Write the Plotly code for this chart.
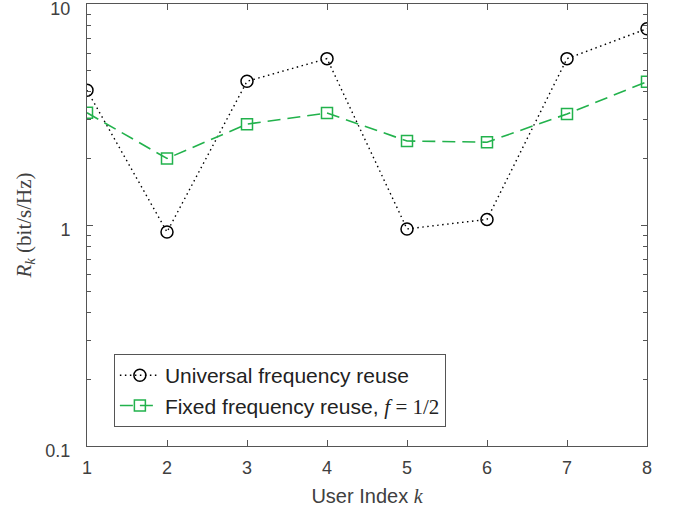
import plotly.graph_objects as go

users = [1, 2, 3, 4, 5, 6, 7, 8]
universal = [4.07, 0.93, 4.47, 5.66, 0.96, 1.06, 5.66, 7.73]
fixed = [3.22, 2.00, 2.86, 3.21, 2.40, 2.37, 3.18, 4.45]
xtick_vals = [1, 2, 3, 4, 5, 6, 7, 8]
ytick_vals = [0.1, 1, 10]
ytick_text = ["0.1", "1", "10"]
yminor_vals = [m * d for d in (0.1, 1) for m in range(2, 10)]

green = "#22b24c"
axis_col = "#555555"
text_col = "#404040"
serif = "Liberation Serif"

fig = go.Figure()
fig.add_trace(go.Scatter(
    x=users, y=universal, mode="lines+markers",
    name="Universal frequency reuse",
    line=dict(color="black", width=1.4, dash="1.5px,3.5px"),
    marker=dict(symbol="circle-open", size=12, color="black", line=dict(width=1.5)),
))
fig.add_trace(go.Scatter(
    x=users, y=fixed, mode="lines+markers",
    name=f"Fixed frequency reuse, <i style='font-family:{serif}'>f</i><span style='font-family:{serif}'> = 1/2</span>",
    line=dict(color=green, width=1.6, dash="13px,7px"),
    marker=dict(symbol="square-open", size=11, color=green, line=dict(width=1.5)),
))

fig.update_layout(
    width=673, height=510,
    margin=dict(l=87, r=26, t=4, b=64, autoexpand=False),
    paper_bgcolor="white", plot_bgcolor="white",
    font=dict(family="Liberation Sans, Arial, sans-serif", size=18, color=text_col),
    showlegend=True,
    legend=dict(
        x=0.048, y=0.208, xanchor="left", yanchor="top",
        bgcolor="white", bordercolor=axis_col, borderwidth=1,
        font=dict(size=21, color="#222222"),
        tracegroupgap=0, itemwidth=40,
    ),
    xaxis=dict(
        range=[1, 8], tickvals=xtick_vals, automargin=False,
        showline=True, linecolor=axis_col, linewidth=1, mirror="ticks",
        ticks="inside", ticklen=6, tickcolor=axis_col,
        ticklabelstandoff=5,
        showgrid=False, zeroline=False,
        title=dict(text=f"User Index <i style='font-family:{serif}'>k</i>", font=dict(size=20), standoff=12),
    ),
    yaxis=dict(
        type="log", range=[-1, 1], automargin=False,
        tickvals=ytick_vals, ticktext=ytick_text,
        showline=True, linecolor=axis_col, linewidth=1, mirror="ticks",
        ticks="inside", ticklen=6, tickcolor=axis_col,
        ticklabelstandoff=12, ticklabeloverflow="allow", ticklabelshift=5,
        minor=dict(tickvals=yminor_vals, ticks="inside", ticklen=4, tickcolor=axis_col),
        showgrid=False, zeroline=False,
        title=dict(
            text=f"<span style='font-family:{serif}'><i>R<sub>k</sub></i> (bit/s/Hz)</span>",
            font=dict(size=21), standoff=8,
        ),
    ),
)

fig.write_html("out.html")
